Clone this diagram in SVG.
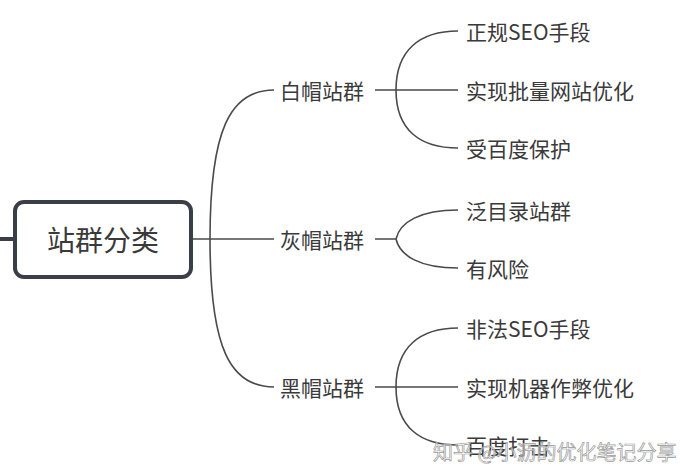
<svg xmlns="http://www.w3.org/2000/svg" width="700" height="470" viewBox="0 0 700 470">
<style>
text{font-family:"Noto Sans CJK SC","Noto Sans",sans-serif;fill:#3a3a3a;dominant-baseline:central}
.t{font-size:21px}
.root{font-size:28px;text-anchor:middle}
.c{fill:none;stroke:#4a4a4a;stroke-width:1.6}
.wm{font-size:20px;fill:#ffffff;fill-opacity:0.55;stroke:#9a9a9a;stroke-width:0.7}
</style>
<rect width="700" height="470" fill="#fff"/>
<g id="connectors">
<path class="c" d="M0,239H15" style="stroke:#3a3f47;stroke-width:4"/>
<path class="c" d="M192,239H274"/>
<path class="c" d="M210,239C210,130 230,90 274,90"/>
<path class="c" d="M210,239C210,348 230,387 274,387"/>
<path class="c" d="M375,90H458M396,90C396,50 420,31 458,31M396,90C396,130 420,148 458,148"/>
<path class="c" d="M375,239H396M396,239C400,222 420,210 458,210M396,239C400,256 420,268 458,268"/>
<path class="c" d="M375,387H458M396,387C396,347 420,328 458,328M396,387C396,427 420,445 458,445"/>
</g>
<g id="root">
<rect x="15" y="202" width="176" height="75" rx="9" fill="#fff" stroke="#3a3f47" stroke-width="4"/>
<text class="root" x="103" y="239">站群分类</text>
</g>
<g id="white"><text class="t" x="280" y="90">白帽站群</text></g>
<g id="gray"><text class="t" x="280" y="239">灰帽站群</text></g>
<g id="black"><text class="t" x="280" y="387">黑帽站群</text></g>
<g id="w1"><text class="t" x="466" y="31">正规SEO手段</text></g>
<g id="w2"><text class="t" x="466" y="90">实现批量网站优化</text></g>
<g id="w3"><text class="t" x="466" y="148">受百度保护</text></g>
<g id="g1"><text class="t" x="466" y="210">泛目录站群</text></g>
<g id="g2"><text class="t" x="466" y="268">有风险</text></g>
<g id="b1"><text class="t" x="466" y="328">非法SEO手段</text></g>
<g id="b2"><text class="t" x="466" y="387">实现机器作弊优化</text></g>
<g id="b3"><text class="t" x="466" y="445">百度打击</text></g>
<text class="wm" x="433" y="451">知乎 @小沥的优化笔记分享</text>
</svg>
